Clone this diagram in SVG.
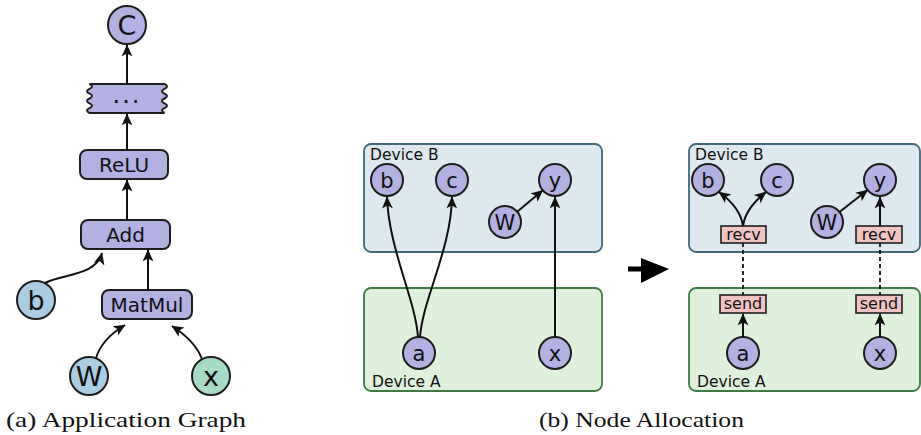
<svg xmlns="http://www.w3.org/2000/svg" width="921" height="435" viewBox="0 0 921 435">
  <style>
    .op { fill: #b3b0e2; stroke: #1e1e1e; stroke-width: 2; }
    .var { fill: #a9cde2; stroke: #1e1e1e; stroke-width: 2; }
    .inp { fill: #a6dcc6; stroke: #1e1e1e; stroke-width: 2; }
    .io { fill: #f2c3c3; stroke: #1e1e1e; stroke-width: 1.6; }
    .lbl { font-family: "DejaVu Sans", Verdana, sans-serif; fill: #111; text-anchor: middle; }
    .big { font-size: 27px; }
    .mid { font-size: 20px; }
    .node { font-size: 21px; }
    .sm { font-size: 16px; }
    .dev { font-family: "DejaVu Sans", Verdana, sans-serif; font-size: 15.5px; fill: #111; }
    .cap { font-family: "Liberation Serif", "Times New Roman", serif; font-size: 22px; fill: #111; }
    .edge { fill: none; stroke: #111; stroke-width: 2; marker-end: url(#arrow); }
    .link { fill: none; stroke: #111; stroke-width: 1.8; stroke-dasharray: 4 3; }
  </style>
  <defs>
    <marker id="arrow" viewBox="0 0 10 10" refX="9.5" refY="5" markerWidth="12" markerHeight="12" markerUnits="userSpaceOnUse" orient="auto">
      <path d="M0,0.5 L10,5 L0,9.5 L2.5,5 Z" fill="#111"/>
    </marker>
  </defs>

  <rect width="921" height="435" fill="#ffffff"/>

  <!-- (a) application graph -->
  <g id="a-C"><circle class="op" cx="127" cy="25" r="19"/><text class="lbl big" x="127" y="34.5">C</text></g>
  <g id="a-more">
    <path class="op" d="M89.5,84 H164.5 q5,2.42 0,4.83 t0,4.83 t0,4.83 t0,4.83 t0,4.83 t0,4.85 H89.5 q-5,-2.42 0,-4.83 t0,-4.83 t0,-4.83 t0,-4.83 t0,-4.83 t0,-4.85 Z"/>
    <text class="lbl" x="127" y="103" font-size="24" letter-spacing="2">...</text>
  </g>
  <g id="a-relu"><rect class="op" x="80" y="150" width="88" height="29" rx="7"/><text class="lbl mid" x="124" y="172">ReLU</text></g>
  <g id="a-add"><rect class="op" x="81" y="220" width="89" height="29" rx="7"/><text class="lbl mid" x="125.5" y="242">Add</text></g>
  <g id="a-matmul"><rect class="op" x="102" y="290" width="90" height="29" rx="7"/><text class="lbl mid" x="147" y="312">MatMul</text></g>
  <g id="a-b"><circle class="var" cx="36" cy="300" r="19"/><text class="lbl big" x="36" y="309.5">b</text></g>
  <g id="a-W"><circle class="var" cx="89" cy="376" r="19"/><text class="lbl big" x="89" y="385.5">W</text></g>
  <g id="a-x"><circle class="inp" cx="211" cy="376" r="19"/><text class="lbl big" x="211" y="385.5">x</text></g>

  <!-- (b) node allocation, before -->
  <g id="m-devB"><rect x="364" y="144" width="238" height="108" rx="7" fill="#dde9ef" stroke="#41697a" stroke-width="1.8"/><text class="dev" x="370" y="160">Device B</text></g>
  <g id="m-devA"><rect x="364" y="288" width="238" height="103" rx="7" fill="#dff0dc" stroke="#3e7a44" stroke-width="1.8"/><text class="dev" x="372" y="387">Device A</text></g>
  <g id="m-b"><circle class="op" cx="387" cy="180" r="16"/><text class="lbl node" x="387" y="187.5">b</text></g>
  <g id="m-c"><circle class="op" cx="452" cy="180" r="16"/><text class="lbl node" x="452" y="187.5">c</text></g>
  <g id="m-y"><circle class="op" cx="555" cy="180" r="16"/><text class="lbl node" x="555" y="187.5">y</text></g>
  <g id="m-W"><circle class="op" cx="505" cy="222" r="16"/><text class="lbl node" x="505" y="229.5">W</text></g>
  <g id="m-a"><circle class="op" cx="419" cy="353" r="16"/><text class="lbl node" x="419" y="360.5">a</text></g>
  <g id="m-x"><circle class="op" cx="555" cy="353" r="16"/><text class="lbl node" x="555" y="360.5">x</text></g>

  <!-- transition arrow -->
  <g id="to-right">
    <rect x="628" y="266.5" width="16" height="5" fill="#000"/>
    <path d="M641,258 L669,269 L641,283 Z" fill="#000"/>
  </g>

  <!-- (b) node allocation, after -->
  <g id="r-devB"><rect x="689" y="144" width="231" height="108" rx="7" fill="#dde9ef" stroke="#41697a" stroke-width="1.8"/><text class="dev" x="695" y="160">Device B</text></g>
  <g id="r-devA"><rect x="689" y="288" width="231" height="103" rx="7" fill="#dff0dc" stroke="#3e7a44" stroke-width="1.8"/><text class="dev" x="697" y="387">Device A</text></g>
  <g id="r-b"><circle class="op" cx="708" cy="180" r="16"/><text class="lbl node" x="708" y="187.5">b</text></g>
  <g id="r-c"><circle class="op" cx="777" cy="180" r="16"/><text class="lbl node" x="777" y="187.5">c</text></g>
  <g id="r-y"><circle class="op" cx="880" cy="180" r="16"/><text class="lbl node" x="880" y="187.5">y</text></g>
  <g id="r-W"><circle class="op" cx="827" cy="222" r="16"/><text class="lbl node" x="827" y="229.5">W</text></g>
  <g id="r-recv1"><rect class="io" x="721" y="226" width="45" height="17"/><text class="lbl sm" x="743.5" y="240">recv</text></g>
  <g id="r-recv2"><rect class="io" x="856" y="226" width="46" height="17"/><text class="lbl sm" x="879" y="240">recv</text></g>
  <g id="r-send1"><rect class="io" x="720" y="295" width="46" height="18"/><text class="lbl sm" x="743" y="309">send</text></g>
  <g id="r-send2"><rect class="io" x="856" y="295" width="46" height="18"/><text class="lbl sm" x="879" y="309">send</text></g>
  <g id="r-a"><circle class="op" cx="743" cy="353" r="16"/><text class="lbl node" x="743" y="360.5">a</text></g>
  <g id="r-x"><circle class="op" cx="880" cy="353" r="16"/><text class="lbl node" x="880" y="360.5">x</text></g>

  <g id="connectors">
    <!-- (a) -->
    <line class="edge" x1="127" y1="84" x2="127" y2="45"/>
    <line class="edge" x1="127" y1="150" x2="127" y2="114"/>
    <line class="edge" x1="127" y1="220" x2="127" y2="180"/>
    <line class="edge" x1="148" y1="290" x2="148" y2="250"/>
    <path class="edge" d="M45,283 C62,274 96,276 102,253"/>
    <path class="edge" d="M96,358 C100,345 110,334 125,325"/>
    <path class="edge" d="M202,359 C197,346 186,335 172,326"/>
    <!-- (b) before -->
    <path class="edge" d="M418,337 C415,298 389,250 387,197"/>
    <path class="edge" d="M420,337 C423,298 451,250 452,197"/>
    <line class="edge" x1="517.2" y1="211.7" x2="542.8" y2="190.3"/>
    <line class="edge" x1="555" y1="337" x2="555" y2="197"/>
    <!-- (b) after -->
    <line class="edge" x1="743" y1="337" x2="743" y2="314"/>
    <line class="edge" x1="880" y1="337" x2="880" y2="314"/>
    <path class="edge" d="M743,226 C741,211 730,200 719,192"/>
    <path class="edge" d="M743,226 C745,211 756,200 766,192"/>
    <line class="edge" x1="880" y1="226" x2="880" y2="197"/>
    <line class="edge" x1="839.5" y1="212" x2="867.5" y2="190"/>
    <line class="link" x1="743" y1="243" x2="743" y2="295"/>
    <line class="link" x1="880" y1="243" x2="880" y2="295"/>
  </g>

  <text class="cap" x="6" y="427" textLength="240" lengthAdjust="spacingAndGlyphs">(a) Application Graph</text>
  <text class="cap" x="539" y="427" textLength="205" lengthAdjust="spacingAndGlyphs">(b) Node Allocation</text>
</svg>
